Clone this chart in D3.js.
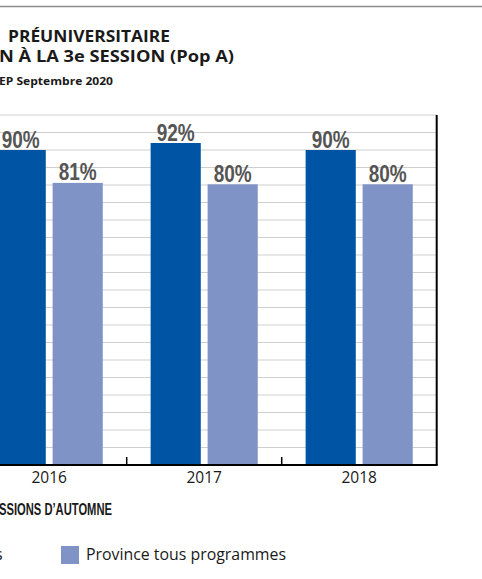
<!DOCTYPE html>
<html>
<head>
<meta charset="utf-8">
<script src="https://cdn.jsdelivr.net/npm/d3@7"></script>
<style>
  body { margin: 0; background: #fff; }
  svg { display: block; }
</style>
</head>
<body>
<script>
// donnees
var years = ['2016', '2017', '2018']
  , series = ['Cégep tous programmes', 'Province tous programmes']
  , cegep = [90, 92, 90]
  , province = [80.6, 80.2, 80.2]
  , yTicks = d3.range(0, 101, 5)
  ;

var width = 482
  , height = 579
  , colors = ['#0054a4', '#8093c6']
  , condensed = '"Liberation Sans Narrow", "Arial Narrow", sans-serif'
  , sans = '"Open Sans", sans-serif'
  ;

var svg = d3.select('body').append('svg')
    .attr('width', width)
    .attr('height', height);

// ligne du haut
svg.append('line')
    .attr('x1', 0).attr('x2', width)
    .attr('y1', 6.5).attr('y2', 6.5)
    .attr('stroke', '#8c8c8c')
    .attr('stroke-width', 1.5);

// titres (coupes a gauche)
function label(x, y, size, len, txt, family) {
  return svg.append('text')
      .attr('x', x).attr('y', y)
      .attr('font-family', family || sans).attr('font-weight', 700).attr('font-size', size)
      .attr('fill', '#1a1a1a')
      .attr('textLength', len)
      .attr('lengthAdjust', 'spacingAndGlyphs')
      .text(txt);
}

label(8, 42, 15.5, 162, 'PRÉUNIVERSITAIRE');
label(-1, 62, 15.5, 235, 'N À LA 3e SESSION (Pop A)');
label(-1, 85, 11, 114, 'EP Septembre 2020');

var data = years.map(function (y, i) {
  return {year: y, values: [cegep[i], province[i]]};
});

var x0 = d3.scaleBand()
    .domain(years)
    .range([-28.3, 436.7]);

var x1 = d3.scaleBand()
    .domain(d3.range(series.length))
    .range([0, x0.bandwidth()])
    .paddingInner(0.12)
    .paddingOuter(0.42);

var y = d3.scaleLinear()
    .domain([0, 100])
    .range([465, 115]);

var plot = svg.append('g');

// quadrillage
plot.append('g')
    .selectAll('line')
    .data(yTicks)
  .enter().append('line')
    .attr('x1', x0.range()[0])
    .attr('x2', x0.range()[1])
    .attr('y1', function (d) { return y(d); })
    .attr('y2', function (d) { return y(d); })
    .attr('stroke', '#cfcfcf')
    .attr('stroke-width', 1);

var group = plot.selectAll('.year')
    .data(data)
  .enter().append('g')
    .attr('class', 'year')
    .attr('transform', function (d) { return 'translate(' + x0(d.year) + ',0)'; });

group.selectAll('rect')
    .data(function (d) { return d.values; })
  .enter().append('rect')
    .attr('x', function (d, i) { return x1(i); })
    .attr('width', x1.bandwidth())
    .attr('y', function (d) { return y(d); })
    .attr('height', function (d) { return y(0) - y(d); })
    .attr('fill', function (d, i) { return colors[i]; });

group.selectAll('.val')
    .data(function (d) { return d.values; })
  .enter().append('text')
    .attr('class', 'val')
    .attr('x', function (d, i) { return x1(i) + x1.bandwidth() / 2 - 19; })
    .attr('y', function (d) { return y(d) - 2.5; })
    .attr('font-family', condensed)
    .attr('font-weight', 700)
    .attr('font-size', 24)
    .attr('fill', '#555')
    .attr('textLength', 38)
    .attr('lengthAdjust', 'spacingAndGlyphs')
    .text(function (d) { return Math.round(d) + '%'; });

// axe du bas
var xAxis = d3.axisBottom(x0).tickSize(0).tickPadding(4);
var gx = plot.append('g')
    .attr('transform', 'translate(0,' + y(0) + ')')
    .call(xAxis);
gx.select('.domain').remove();
gx.selectAll('text')
    .attr('font-family', sans)
    .attr('font-size', 15.5)
    .attr('fill', '#1a1a1a')
    .attr('dy', '0.9em');

plot.append('line')
    .attr('x1', x0.range()[0]).attr('x2', x0.range()[1] + 1)
    .attr('y1', y(0)).attr('y2', y(0))
    .attr('stroke', '#000').attr('stroke-width', 2);

plot.append('line')
    .attr('x1', x0.range()[1]).attr('x2', x0.range()[1])
    .attr('y1', y(100)).attr('y2', y(0))
    .attr('stroke', '#000').attr('stroke-width', 2);

// separateurs entre les annees
plot.append('g')
    .selectAll('line')
    .data(years.slice(1))
  .enter().append('line')
    .attr('x1', function (d) { return x0(d); })
    .attr('x2', function (d) { return x0(d); })
    .attr('y1', y(0))
    .attr('y2', y(0) - 8)
    .attr('stroke', '#000')
    .attr('stroke-width', 1.5);

label(-1, 515, 16, 113, 'SSIONS D’AUTOMNE', condensed);

// legende
var legend = svg.append('g');

legend.append('text')
    .attr('x', 2.5).attr('y', 560)
    .attr('text-anchor', 'end')
    .attr('font-family', sans).attr('font-size', 16)
    .attr('fill', '#1a1a1a')
    .text(series[0]);

legend.append('rect')
    .attr('x', 61).attr('y', 546)
    .attr('width', 18).attr('height', 18)
    .attr('fill', colors[1]);

legend.append('text')
    .attr('x', 86).attr('y', 560)
    .attr('font-family', sans).attr('font-size', 16)
    .attr('fill', '#1a1a1a')
    .attr('textLength', 200)
    .attr('lengthAdjust', 'spacingAndGlyphs')
    .text(series[1]);
</script>
</body>
</html>
